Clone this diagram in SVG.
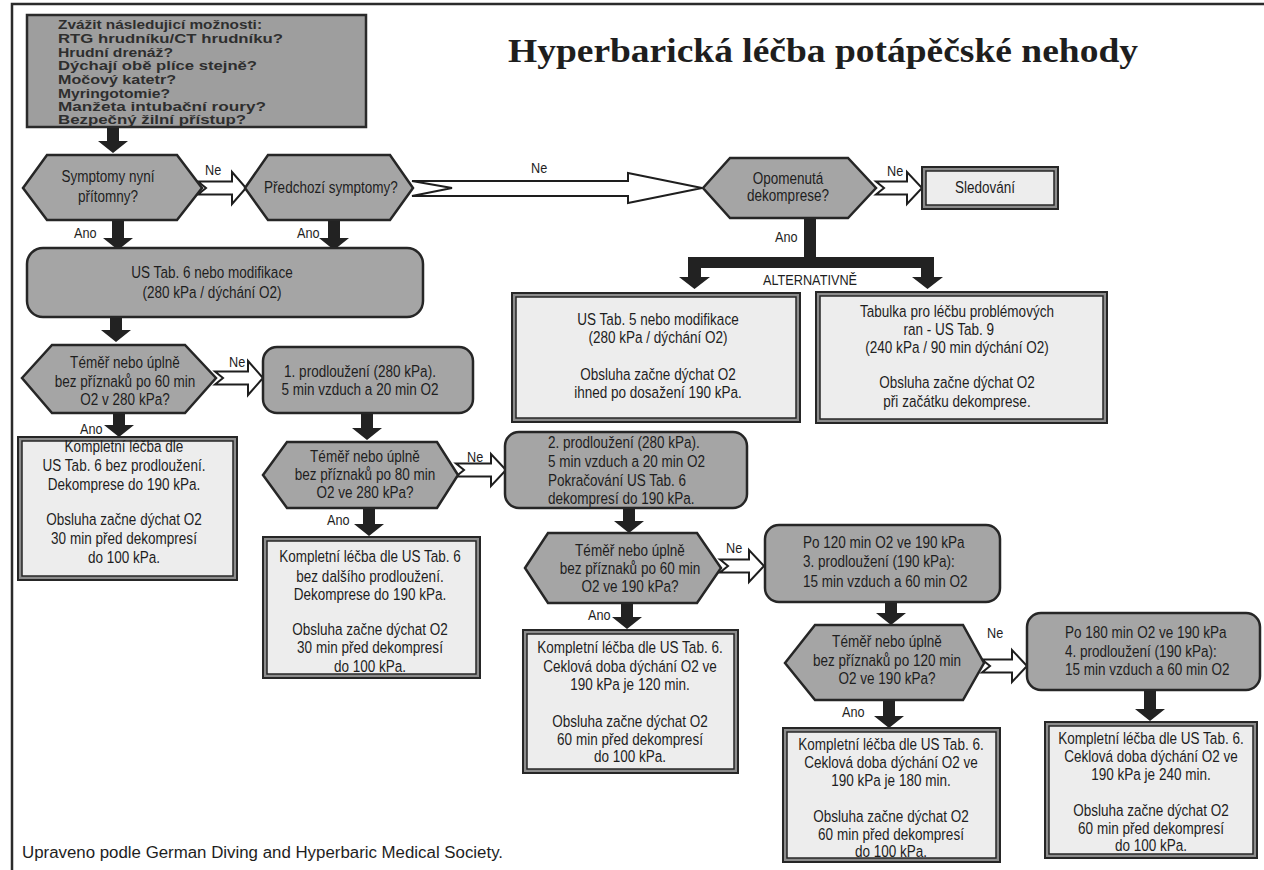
<svg xmlns="http://www.w3.org/2000/svg" width="1264" height="870" viewBox="0 0 1264 870">
<style>
.bg{fill:#ffffff}
.frame{fill:none;stroke:#2b2b2b;stroke-width:2.5}
.box1{fill:#9e9e9e;stroke:#2a2a2a;stroke-width:2.5}
.hex{fill:#a5a5a5;stroke:#262626;stroke-width:2.5;stroke-linejoin:miter}
.rbox{fill:#a5a5a5;stroke:#262626;stroke-width:2.5}
.reso{fill:#8c8c8c;stroke:#262626;stroke-width:2}
.resi{fill:#ededed;stroke:#262626;stroke-width:1.5}
.ne{fill:#ffffff;stroke:#1e1e1e;stroke-width:2;stroke-linejoin:miter}
.ano{fill:#222222}
.t{font-family:"Liberation Sans",Arial,sans-serif;font-size:16.5px;fill:#1e1e1e;text-anchor:middle}
.tl{font-family:"Liberation Sans",Arial,sans-serif;font-size:16.5px;fill:#1e1e1e;text-anchor:start}
.lbl{font-family:"Liberation Sans",Arial,sans-serif;font-size:15.5px;fill:#1e1e1e;text-anchor:start}
.b1{font-family:"Liberation Sans",Arial,sans-serif;font-size:13px;font-weight:bold;fill:#2e2e2e}
.title{font-family:"Liberation Serif","Times New Roman",serif;font-size:34px;font-weight:bold;fill:#1e1e1e}
.foot{font-family:"Liberation Sans",Arial,sans-serif;font-size:16px;fill:#1e1e1e}
</style>
<rect class="bg" x="0" y="0" width="1264" height="870"/>
<path class="frame" d="M12,870 V4 H1264"/>

<text class="title" x="508" y="62" textLength="630" lengthAdjust="spacingAndGlyphs">Hyperbarická léčba potápěčské nehody</text>

<g id="connectors">
  <path class="ne" d="M198,181.5 H232 V172 L246,188 L232,204 V194.5 H198 L206,188 Z"/>
  <path class="ne" d="M412,181 H628 V173 L702,188 L628,203 V196 H412 L452,188 Z"/>
  <path class="ne" d="M876,181.5 H907 V172 L922,188 L907,204 V194.5 H876 L884,188 Z"/>
  <path class="ne" d="M215,371.5 H248 V361 L263,378 L248,395 V384.5 H215 L223,378 Z"/>
  <path class="ne" d="M456,463.5 H491 V454 L506,470 L491,486 V476.5 H456 L464,470 Z"/>
  <path class="ne" d="M720,559.5 H749 V550 L764,566 L749,582 V572.5 H720 L728,566 Z"/>
  <path class="ne" d="M982,659.5 H1012 V650 L1027,666 L1012,682 V672.5 H982 L990,666 Z"/>
  <path class="ano" d="M107,127 H119 V141 H128 L113,153 L98,141 H107 Z"/>
  <path class="ano" d="M112,220 H124 V238 H133 L118,250 L103,238 H112 Z"/>
  <path class="ano" d="M328,220 H340 V238 H349 L334,250 L319,238 H328 Z"/>
  <path class="ano" d="M110,317 H122 V330 H131 L116,342 L101,330 H110 Z"/>
  <path class="ano" d="M113,413 H125 V425 H134 L119,437 L104,425 H113 Z"/>
  <path class="ano" d="M361,413 H373 V428 H382 L367,440 L352,428 H361 Z"/>
  <path class="ano" d="M363,508 H375 V524 H384 L369,536 L354,524 H363 Z"/>
  <path class="ano" d="M623,508 H635 V521 H644 L629,533 L614,521 H623 Z"/>
  <path class="ano" d="M621,603 H633 V617 H642 L627,629 L612,617 H621 Z"/>
  <path class="ano" d="M885,601 H897 V613 H906 L891,625 L876,613 H885 Z"/>
  <path class="ano" d="M883,700 H895 V716 H904 L889,728 L874,716 H883 Z"/>
  <path class="ano" d="M1144,690 H1156 V709 H1165 L1150,721 L1135,709 H1144 Z"/>
  <path class="ano" d="M804,218 H816 V257 H934 V277 H943 L927.5,289 L912,277 H921 V268 H701 V277 H710 L694.5,289 L679,277 H688 V257 H804 Z"/>
  <text class="lbl" transform="matrix(0.82,0,0,1,36.9,0)" x="205" y="175">Ne</text>
  <text class="lbl" transform="matrix(0.82,0,0,1,95.58,0)" x="531" y="173">Ne</text>
  <text class="lbl" transform="matrix(0.82,0,0,1,159.66,0)" x="887" y="176">Ne</text>
  <text class="lbl" transform="matrix(0.82,0,0,1,41.22,0)" x="229" y="367">Ne</text>
  <text class="lbl" transform="matrix(0.82,0,0,1,84.06,0)" x="467" y="462">Ne</text>
  <text class="lbl" transform="matrix(0.82,0,0,1,130.68,0)" x="726" y="553">Ne</text>
  <text class="lbl" transform="matrix(0.82,0,0,1,177.66,0)" x="987" y="638">Ne</text>
  <text class="lbl" transform="matrix(0.82,0,0,1,13.32,0)" x="74" y="238">Ano</text>
  <text class="lbl" transform="matrix(0.82,0,0,1,53.46,0)" x="297" y="238">Ano</text>
  <text class="lbl" transform="matrix(0.82,0,0,1,139.5,0)" x="775" y="242">Ano</text>
  <text class="lbl" transform="matrix(0.82,0,0,1,14.4,0)" x="80" y="434">Ano</text>
  <text class="lbl" transform="matrix(0.82,0,0,1,58.86,0)" x="327" y="525">Ano</text>
  <text class="lbl" transform="matrix(0.82,0,0,1,105.84,0)" x="588" y="620">Ano</text>
  <text class="lbl" transform="matrix(0.82,0,0,1,151.56,0)" x="842" y="717">Ano</text>
  <text class="t" transform="matrix(0.82,0,0,1,145.8,0)" x="810" y="285" style="font-size:15.5px">ALTERNATIVNĚ</text>
</g>

<g id="n-check">
  <rect class="box1" x="27" y="15" width="339" height="112"/>
  <text class="b1" x="58" y="29" textLength="204" lengthAdjust="spacingAndGlyphs">Zvážit následujicí možnosti:</text>
  <text class="b1" x="58" y="43" textLength="225" lengthAdjust="spacingAndGlyphs">RTG hrudníku/CT hrudníku?</text>
  <text class="b1" x="58" y="57" textLength="115" lengthAdjust="spacingAndGlyphs">Hrudní drenáž?</text>
  <text class="b1" x="58" y="70" textLength="199" lengthAdjust="spacingAndGlyphs">Dýchají obě plíce stejně?</text>
  <text class="b1" x="58" y="84" textLength="118" lengthAdjust="spacingAndGlyphs">Močový katetr?</text>
  <text class="b1" x="58" y="98" textLength="112" lengthAdjust="spacingAndGlyphs">Myringotomie?</text>
  <text class="b1" x="58" y="111" textLength="208" lengthAdjust="spacingAndGlyphs">Manžeta intubační roury?</text>
  <text class="b1" x="58" y="124" textLength="188" lengthAdjust="spacingAndGlyphs">Bezpečný žilní přístup?</text>
</g>

<g id="n-symptomy">
  <polygon class="hex" points="23,188 47,155 177,155 202,188 177,220 47,220"/>
  <g transform="matrix(0.82,0,0,1,19.44,0)">
    <text class="t" x="108" y="182">Symptomy nyní</text>
    <text class="t" x="108" y="202">přítomny?</text>
  </g>
</g>

<g id="n-predchozi">
  <polygon class="hex" points="245,188 268,155 390,155 413,188 390,220 268,220"/>
  <g transform="matrix(0.82,0,0,1,59.58,0)">
    <text class="t" x="331" y="193">Předchozí symptomy?</text>
  </g>
</g>

<g id="n-opomenuta">
  <polygon class="hex" points="703,188 730,158 848,158 876,188 848,218 730,218"/>
  <g transform="matrix(0.82,0,0,1,141.84,0)">
    <text class="t" x="788" y="184">Opomenutá</text>
    <text class="t" x="788" y="201">dekomprese?</text>
  </g>
</g>

<g id="n-sledovani">
  <rect class="reso" x="922" y="167" width="136" height="42"/>
  <rect class="resi" x="926" y="171" width="128" height="34"/>
  <g transform="matrix(0.82,0,0,1,177.3,0)">
    <text class="t" x="985" y="193">Sledování</text>
  </g>
</g>

<g id="n-tab6">
  <rect class="rbox" x="27" y="248" width="396" height="69" rx="16"/>
  <g transform="matrix(0.82,0,0,1,38.16,0)">
    <text class="t" x="212" y="278">US Tab. 6 nebo modifikace</text>
    <text class="t" x="212" y="298">(280 kPa / dýchání O2)</text>
  </g>
</g>

<g id="n-tab5">
  <rect class="reso" x="512" y="293" width="288" height="129"/>
  <rect class="resi" x="516" y="297" width="280" height="121"/>
  <g transform="matrix(0.82,0,0,1,118.44,0)">
    <text class="t" x="658" y="325">US Tab. 5 nebo modifikace</text>
    <text class="t" x="658" y="343">(280 kPa / dýchání O2)</text>
    <text class="t" x="658" y="380">Obsluha začne dýchat O2</text>
    <text class="t" x="658" y="398">ihned po dosažení 190 kPa.</text>
  </g>
</g>

<g id="n-tab9">
  <rect class="reso" x="816" y="292" width="291" height="131"/>
  <rect class="resi" x="820" y="296" width="283" height="123"/>
  <g transform="matrix(0.82,0,0,1,172.26,0)">
    <text class="t" x="957" y="317">Tabulka pro léčbu problémových</text>
    <text class="t" x="947" y="335">ran - US Tab. 9</text>
    <text class="t" x="957" y="353">(240 kPa / 90 min dýchání O2)</text>
    <text class="t" x="957" y="388">Obsluha začne dýchat O2</text>
    <text class="t" x="957" y="407">při začátku dekomprese.</text>
  </g>
</g>

<g id="n-q60-280">
  <polygon class="hex" points="22,378 52,345 185,345 216,378 185,413 52,413"/>
  <g transform="matrix(0.82,0,0,1,22.5,0)">
    <text class="t" x="125" y="368">Téměř nebo úplně</text>
    <text class="t" x="125" y="387">bez příznaků po 60 min</text>
    <text class="t" x="125" y="405">O2 v 280 kPa?</text>
  </g>
</g>

<g id="n-prodl1">
  <rect class="rbox" x="263" y="347" width="210" height="66" rx="14"/>
  <g transform="matrix(0.82,0,0,1,64.8,0)">
    <text class="t" x="360" y="377">1. prodloužení (280 kPa).</text>
    <text class="t" x="360" y="395">5 min vzduch a 20 min O2</text>
  </g>
</g>

<g id="n-res1">
  <rect class="reso" x="18" y="437" width="219" height="143"/>
  <rect class="resi" x="22" y="441" width="211" height="135"/>
  <g transform="matrix(0.82,0,0,1,22.32,0)">
    <text class="t" x="124" y="452">Kompletní léčba dle</text>
    <text class="t" x="124" y="471">US Tab. 6 bez prodloužení.</text>
    <text class="t" x="124" y="490">Dekomprese do 190 kPa.</text>
    <text class="t" x="124" y="525">Obsluha začne dýchat O2</text>
    <text class="t" x="124" y="544">30 min před dekompresí</text>
    <text class="t" x="124" y="563">do 100 kPa.</text>
  </g>
</g>

<g id="n-q80-280">
  <polygon class="hex" points="263,475 287,442 437,442 458,475 437,508 287,508"/>
  <g transform="matrix(0.82,0,0,1,65.7,0)">
    <text class="t" x="365" y="462">Téměř nebo úplně</text>
    <text class="t" x="365" y="480">bez příznaků po 80 min</text>
    <text class="t" x="365" y="498">O2 ve 280 kPa?</text>
  </g>
</g>

<g id="n-prodl2">
  <rect class="rbox" x="505" y="432" width="242" height="76" rx="14"/>
  <g transform="matrix(0.82,0,0,1,98.64,0)">
    <text class="tl" x="548" y="448">2. prodloužení (280 kPa).</text>
    <text class="tl" x="548" y="467">5 min vzduch a 20 min O2</text>
    <text class="tl" x="548" y="486">Pokračování US Tab. 6</text>
    <text class="tl" x="548" y="504">dekompresí do 190 kPa.</text>
  </g>
</g>

<g id="n-res2">
  <rect class="reso" x="263" y="537" width="217" height="141"/>
  <rect class="resi" x="267" y="541" width="209" height="133"/>
  <g transform="matrix(0.82,0,0,1,66.6,0)">
    <text class="t" x="370" y="562">Kompletní léčba dle US Tab. 6</text>
    <text class="t" x="370" y="582">bez dalšího prodloužení.</text>
    <text class="t" x="370" y="600">Dekomprese do 190 kPa.</text>
    <text class="t" x="370" y="635">Obsluha začne dýchat O2</text>
    <text class="t" x="370" y="653">30 min před dekompresí</text>
    <text class="t" x="370" y="672">do 100 kPa.</text>
  </g>
</g>

<g id="n-q60-190">
  <polygon class="hex" points="525,568 548,533 697,533 721,568 697,603 548,603"/>
  <g transform="matrix(0.82,0,0,1,113.4,0)">
    <text class="t" x="630" y="556">Téměř nebo úplně</text>
    <text class="t" x="630" y="574">bez příznaků po 60 min</text>
    <text class="t" x="630" y="592">O2 ve 190 kPa?</text>
  </g>
</g>

<g id="n-prodl3">
  <rect class="rbox" x="765" y="525" width="235" height="77" rx="14"/>
  <g transform="matrix(0.82,0,0,1,144.54,0)">
    <text class="tl" x="803" y="548">Po 120 min O2 ve 190 kPa</text>
    <text class="tl" x="803" y="567">3. prodloužení (190 kPa):</text>
    <text class="tl" x="803" y="587">15 min vzduch a 60 min O2</text>
  </g>
</g>

<g id="n-res3">
  <rect class="reso" x="523" y="630" width="215" height="143"/>
  <rect class="resi" x="527" y="634" width="207" height="135"/>
  <g transform="matrix(0.82,0,0,1,113.4,0)">
    <text class="t" x="630" y="653">Kompletní léčba dle US Tab. 6.</text>
    <text class="t" x="630" y="672">Ceklová doba dýchání O2 ve</text>
    <text class="t" x="630" y="690">190 kPa je 120 min.</text>
    <text class="t" x="630" y="727">Obsluha začne dýchat O2</text>
    <text class="t" x="630" y="745">60 min před dekompresí</text>
    <text class="t" x="630" y="762">do 100 kPa.</text>
  </g>
</g>

<g id="n-q120-190">
  <polygon class="hex" points="785,663 815,625 963,625 984,663 963,700 815,700"/>
  <g transform="matrix(0.82,0,0,1,159.66,0)">
    <text class="t" x="887" y="647">Téměř nebo úplně</text>
    <text class="t" x="887" y="666">bez příznaků po 120 min</text>
    <text class="t" x="887" y="684">O2 ve 190 kPa?</text>
  </g>
</g>

<g id="n-prodl4">
  <rect class="rbox" x="1027" y="613" width="233" height="77" rx="14"/>
  <g transform="matrix(0.82,0,0,1,191.7,0)">
    <text class="tl" x="1065" y="638">Po 180 min O2 ve 190 kPa</text>
    <text class="tl" x="1065" y="657">4. prodloužení (190 kPa):</text>
    <text class="tl" x="1065" y="675">15 min vzduch a 60 min O2</text>
  </g>
</g>

<g id="n-res4">
  <rect class="reso" x="783" y="728" width="217" height="134"/>
  <rect class="resi" x="787" y="732" width="209" height="126"/>
  <g transform="matrix(0.82,0,0,1,160.38,0)">
    <text class="t" x="891" y="750">Kompletní léčba dle US Tab. 6.</text>
    <text class="t" x="891" y="768">Ceklová doba dýchání O2 ve</text>
    <text class="t" x="891" y="786">190 kPa je 180 min.</text>
    <text class="t" x="891" y="822">Obsluha začne dýchat O2</text>
    <text class="t" x="891" y="840">60 min před dekompresí</text>
    <text class="t" x="891" y="857">do 100 kPa.</text>
  </g>
</g>

<g id="n-res5">
  <rect class="reso" x="1045" y="722" width="212" height="136"/>
  <rect class="resi" x="1049" y="726" width="204" height="128"/>
  <g transform="matrix(0.82,0,0,1,207.18,0)">
    <text class="t" x="1151" y="744">Kompletní léčba dle US Tab. 6.</text>
    <text class="t" x="1151" y="762">Ceklová doba dýchání O2 ve</text>
    <text class="t" x="1151" y="780">190 kPa je 240 min.</text>
    <text class="t" x="1151" y="816">Obsluha začne dýchat O2</text>
    <text class="t" x="1151" y="834">60 min před dekompresí</text>
    <text class="t" x="1151" y="851">do 100 kPa.</text>
  </g>
</g>

<text class="foot" x="22" y="858" textLength="481" lengthAdjust="spacingAndGlyphs">Upraveno podle German Diving and Hyperbaric Medical Society.</text>
</svg>
